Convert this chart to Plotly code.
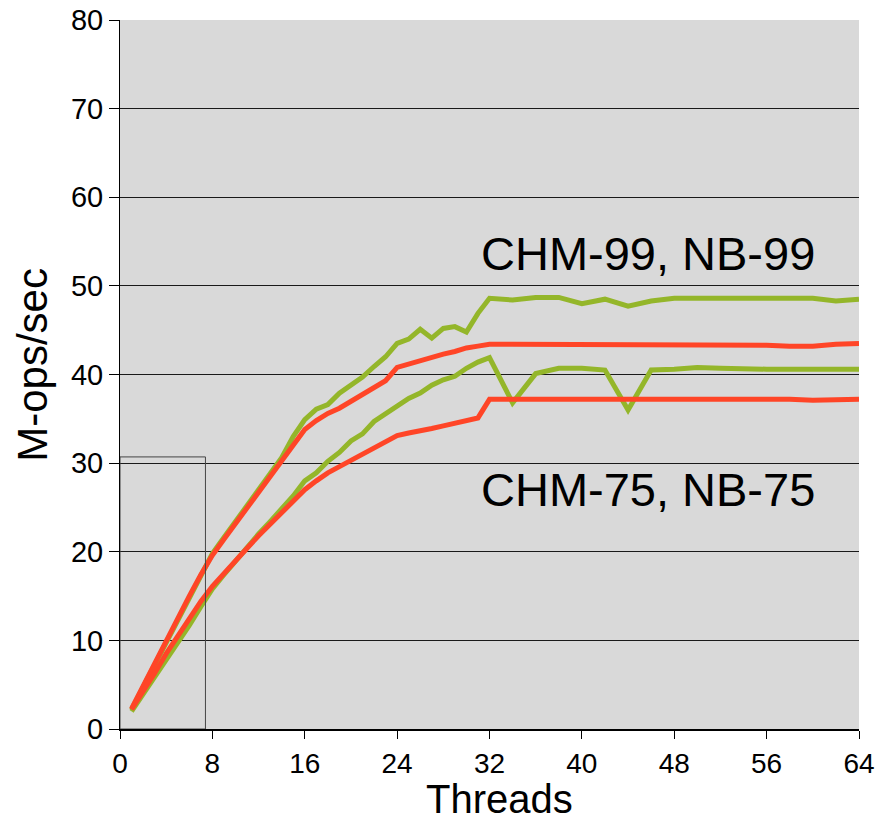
import plotly.graph_objects as go

threads = list(range(1, 33)) + list(range(34, 65, 2))

chm_99 = [2.2, 4.7, 7.3, 9.9, 12.5, 15.0, 17.4, 19.8, 21.6, 23.4, 25.2, 27.0, 28.8, 30.6, 33.0, 34.9,
          36.1, 36.6, 37.9, 38.8, 39.7, 40.9, 42.0, 43.5, 44.0, 45.1, 44.1, 45.2, 45.4, 44.8, 46.9, 48.6,
          48.4, 48.7, 48.7, 48.0, 48.5, 47.7, 48.3, 48.6, 48.6, 48.6, 48.6, 48.6, 48.6, 48.6, 48.3, 48.5]
nb_99 = [2.3, 4.9, 7.5, 10.1, 12.6, 15.0, 17.4, 19.6, 21.4, 23.2, 25.0, 26.8, 28.6, 30.3, 32.0, 33.8,
         34.8, 35.6, 36.2, 37.0, 37.7, 38.5, 39.3, 40.8, 41.2, 41.5, 41.9, 42.3, 42.6, 43.0, 43.2, 43.4,
         43.4, 43.4, 43.4, 43.4, 43.4, 43.4, 43.4, 43.3, 43.3, 43.3, 43.3, 43.3, 43.2, 43.2, 43.4, 43.5]
chm_75 = [2.0, 3.9, 5.9, 7.9, 9.8, 11.7, 13.8, 15.8, 17.4, 19.0, 20.5, 22.0, 23.4, 24.8, 26.3, 28.0,
          28.9, 30.2, 31.2, 32.5, 33.3, 34.7, 35.6, 36.5, 37.3, 37.9, 38.8, 39.4, 39.8, 40.7, 41.4, 41.9,
          36.8, 40.1, 40.7, 40.7, 40.5, 36.0, 40.5, 40.6, 40.8, 40.7, 40.6, 40.6, 40.6, 40.6, 40.7, 40.6]
nb_75 = [2.2, 4.2, 6.3, 8.5, 10.5, 12.5, 14.4, 16.1, 17.6, 19.0, 20.4, 21.8, 23.1, 24.4, 25.7, 27.0,
         28.0, 28.9, 29.6, 30.3, 31.0, 31.7, 32.4, 33.1, 33.4, 33.6, 33.9, 34.2, 34.5, 34.8, 35.1, 37.2,
         37.2, 37.2, 37.3, 37.3, 37.3, 37.3, 37.2, 37.2, 37.2, 37.2, 37.2, 37.2, 37.2, 37.1, 37.2, 37.2]

x_ticks = [0, 8, 16, 24, 32, 40, 48, 56, 64]
y_ticks = [0, 10, 20, 30, 40, 50, 60, 70, 80]
label_99 = "CHM-99, NB-99"
label_75 = "CHM-75, NB-75"
x_title = "Threads"
y_title = "M-ops/sec"
inset_box = (0, 7.4, 0, 30.7)

GREEN = "#94b62a"
RED = "#ff4527"
FONT = "Arial, Liberation Sans, sans-serif"

fig = go.Figure()
for name, ys, color in [("CHM-99", chm_99, GREEN), ("CHM-75", chm_75, GREEN),
                        ("NB-99", nb_99, RED), ("NB-75", nb_75, RED)]:
    fig.add_trace(go.Scatter(x=threads, y=ys, mode="lines", name=name,
                             line=dict(color=color, width=5)))

fig.add_shape(type="rect", xref="x", yref="y", x0=inset_box[0], x1=inset_box[1],
              y0=inset_box[2], y1=inset_box[3], line=dict(color="#444444", width=1))

fig.add_annotation(x=45.7, y=53.6, text=label_99, showarrow=False,
                   font=dict(family=FONT, size=47, color="black"))
fig.add_annotation(x=45.7, y=27.0, text=label_75, showarrow=False,
                   font=dict(family=FONT, size=47, color="black"))
fig.add_annotation(xref="paper", yref="paper", x=0.513, y=-0.1325, text=x_title,
                   showarrow=False, xanchor="center", yanchor="bottom",
                   font=dict(family=FONT, size=40, color="black"))
fig.add_annotation(xref="paper", yref="paper", x=-0.118, y=0.5134, text=y_title,
                   showarrow=False, xanchor="center", yanchor="middle", textangle=-90,
                   font=dict(family=FONT, size=42, color="black"))

fig.update_layout(
    width=879, height=825,
    margin=dict(l=120, r=20, t=20, b=96),
    paper_bgcolor="white", plot_bgcolor="#d9d9d9",
    showlegend=False,
    font=dict(family=FONT, color="black"),
)
fig.update_xaxes(range=[0, 64], tickvals=x_ticks, ticktext=[str(v) for v in x_ticks],
                 automargin=False,
                 showgrid=False, zeroline=False, showline=True, linecolor="black", linewidth=2,
                 ticks="outside", ticklen=8, tickcolor="black", tickwidth=1,
                 tickfont=dict(family=FONT, size=28))
fig.update_yaxes(range=[0, 80], tickvals=y_ticks, ticktext=[str(v) for v in y_ticks],
                 automargin=False,
                 showgrid=True, gridcolor="#1a1a1a", gridwidth=1, zeroline=False,
                 showline=True, linecolor="black", linewidth=1,
                 ticks="outside", ticklen=10, tickcolor="black", tickwidth=1,
                 tickfont=dict(family=FONT, size=29))

fig.write_html("out.html", config={"displayModeBar": False},
               post_script="document.body.style.margin='0';document.body.style.overflow='hidden';")
